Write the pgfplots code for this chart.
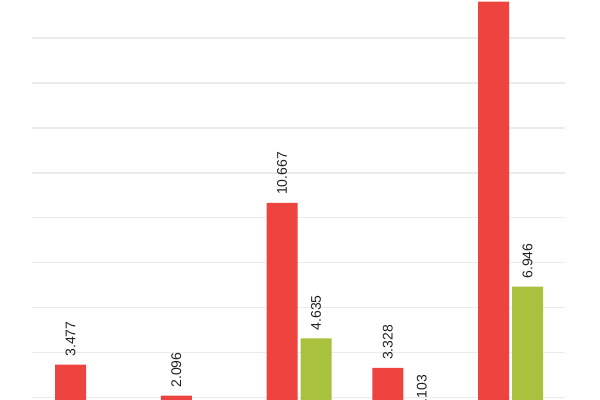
\documentclass[border=0pt]{standalone}
\usepackage{pgfplots}
\pgfplotsset{compat=1.18}
\usepackage{fontspec}
\setmainfont{Liberation Sans}

\definecolor{barred}{HTML}{EE4440}
\definecolor{bargreen}{HTML}{A8C23E}
\definecolor{gridgray}{HTML}{EBEBEB}
\definecolor{labelgray}{HTML}{222222}

\begin{document}
\begin{tikzpicture}
\begin{axis}[
	at={(24pt,-32.0pt)},
	anchor=south west,
	scale only axis,
	width=399.75pt,
	height=331.97pt,
	ybar=2.25pt,
	bar width=23.25pt,
	xmin=-0.525, xmax=4.515,
	ymin=0, ymax=19.69,
	ytick distance=2,
	ymajorgrids,
	grid style={gridgray, line width=0.9pt},
	axis line style={draw=none},
	xtick=\empty,
	yticklabels={},
	major tick length=0pt,
	nodes near coords,
	nodes near coords style={
		rotate=90, anchor=west, xshift=2.5pt,
		font=\fontsize{10.5}{12}\selectfont, text=labelgray,
		/pgf/number format/.cd, fixed, fixed zerofill, precision=3, assume math mode=true,
	},
	]

% red series
\addplot[fill=barred, draw=none] coordinates {(0,3.477) (1,2.096) (2,10.667) (3,3.328) (4,19.62)};

% green series (first two groups show no green bar)
\addplot[fill=bargreen, draw=none] coordinates {(2,4.635) (3,1.103) (4,6.946)};

\end{axis}
\pgfresetboundingbox
\useasboundingbox (0,0) rectangle (450pt,300pt);
\end{tikzpicture}
\end{document}
